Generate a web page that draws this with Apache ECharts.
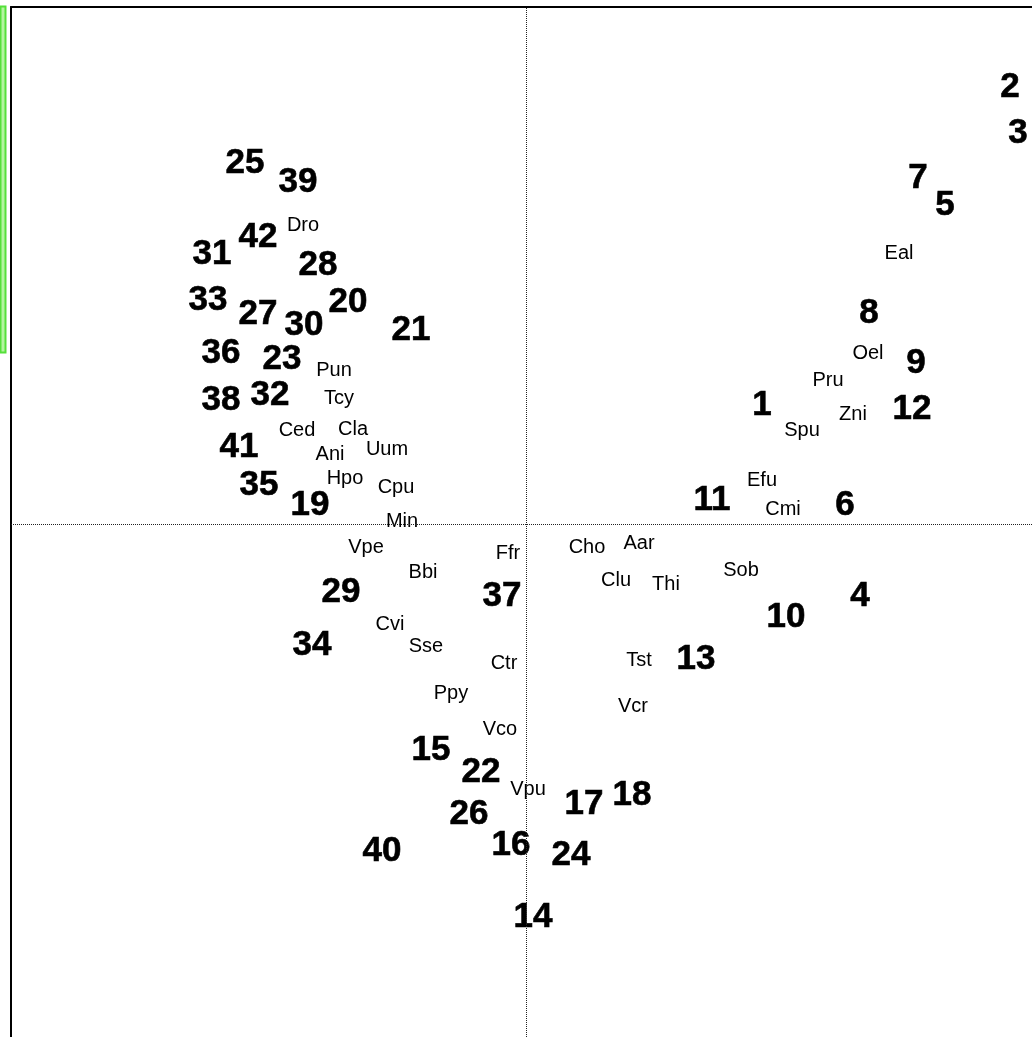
<!DOCTYPE html>
<html>
<head>
<meta charset="utf-8">
<script src="https://cdn.jsdelivr.net/npm/echarts@6/dist/echarts.min.js"></script>
<style>
html,body{margin:0;padding:0;background:#fff;}
#chart{width:1032px;height:1037px;}
</style>
</head>
<body>
<div id="chart"></div>
<script>
// Site scores (bold numbers)
const siteNames = ['1','2','3','4','5','6','7','8','9','10','11','12','13','14','15','16','17','18','19','20','21','22','23','24','25','26','27','28','29','30','31','32','33','34','35','36','37','38','39','40','41','42'];
const siteX = [2.36,4.84,4.92,3.34,4.19,3.19,3.92,3.43,3.90,2.60,1.86,3.86,1.70,0.07,-0.95,-0.15,0.58,1.06,-2.16,-1.78,-1.15,-0.45,-2.44,0.45,-2.81,-0.57,-2.68,-2.08,-1.85,-2.22,-3.14,-2.56,-3.18,-2.14,-2.67,-3.05,-0.24,-3.05,-2.28,-1.44,-2.87,-2.68];
const siteY = [1.21,4.39,3.93,-0.70,3.21,0.21,3.48,2.13,1.63,-0.91,0.26,1.17,-1.33,-3.91,-2.24,-3.19,-2.78,-2.69,0.21,2.24,1.96,-2.46,1.67,-3.29,3.63,-2.88,2.12,2.61,-0.66,2.01,2.72,1.31,2.26,-1.19,0.41,1.73,-0.70,1.26,3.44,-3.25,0.79,2.89];

// Species scores (small labels)
const speciesNames = ['Dro','Pun','Tcy','Ced','Cla','Ani','Uum','Hpo','Cpu','Min','Vpe','Ffr','Bbi','Cvi','Sse','Ctr','Ppy','Vco','Vpu','Cho','Aar','Clu','Thi','Sob','Tst','Vcr','Eal','Oel','Pru','Zni','Spu','Efu','Cmi'];
const speciesX = [-2.23,-1.92,-1.87,-2.29,-1.73,-1.96,-1.39,-1.81,-1.30,-1.24,-1.60,-0.18,-1.03,-1.36,-1.00,-0.22,-0.75,-0.26,0.02,0.61,1.13,0.90,1.40,2.15,1.13,1.07,3.73,3.42,3.02,3.27,2.76,2.36,2.57];
const speciesY = [3.00,1.55,1.27,0.95,0.96,0.71,0.76,0.47,0.38,0.04,-0.22,-0.28,-0.47,-0.99,-1.21,-1.38,-1.68,-2.04,-2.64,-0.22,-0.18,-0.55,-0.59,-0.45,-1.35,-1.81,2.72,1.72,1.45,1.11,0.95,0.45,0.16];

const siteData = siteNames.map((n, i) => [siteX[i], siteY[i]]);
const speciesData = speciesNames.map((n, i) => [speciesX[i], speciesY[i]]);

const chart = echarts.init(document.getElementById('chart'), null, { renderer: 'canvas' });
const FONT = '"Liberation Sans", Arial, sans-serif';

function textRenderer(names, font, dy, stroke) {
  return function (params, api) {
    const p = api.coord([api.value(0), api.value(1)]);
    return {
      type: 'text',
      x: p[0], y: p[1] + dy,
      style: {
        text: names[params.dataIndex],
        fill: '#000',
        font: font,
        align: 'center',
        verticalAlign: 'middle',
        stroke: stroke ? '#000' : null,
        lineWidth: stroke || 0
      }
    };
  };
}

chart.setOption({
  animation: false,
  backgroundColor: '#ffffff',
  grid: { left: 11, top: 7, right: 0, bottom: 0, containLabel: false },
  xAxis: {
    type: 'value', min: -5.15, max: 5.06, position: 'top',
    axisLine: { show: true, onZero: false, lineStyle: { color: '#000', width: 2 } },
    axisTick: { show: false }, axisLabel: { show: false }, splitLine: { show: false }
  },
  yAxis: {
    type: 'value', min: -5.13, max: 5.17, position: 'left',
    axisLine: { show: true, onZero: false, lineStyle: { color: '#000', width: 2 } },
    axisTick: { show: false }, axisLabel: { show: false }, splitLine: { show: false }
  },
  graphic: [{
    type: 'rect',
    shape: { x: 0.5, y: 6.5, width: 5, height: 346 },
    style: { fill: '#b4f4a0', stroke: '#55e03a', lineWidth: 2 }
  }],
  series: [
    {
      type: 'custom', data: speciesData, encode: { x: 0, y: 1 },
      renderItem: textRenderer(speciesNames, '20px ' + FONT, 1, 0),
      markLine: {
        silent: true, symbol: ['none', 'none'],
        label: { show: false },
        lineStyle: { type: 'dotted', color: '#222', width: 1 },
        data: [{ xAxis: 0 }, { yAxis: 0 }]
      },
      z: 3
    },
    {
      type: 'custom', data: siteData, encode: { x: 0, y: 1 },
      renderItem: textRenderer(siteNames, 'bold 35px ' + FONT, 2, 0.6),
      z: 4
    }
  ]
});
</script>
</body>
</html>
